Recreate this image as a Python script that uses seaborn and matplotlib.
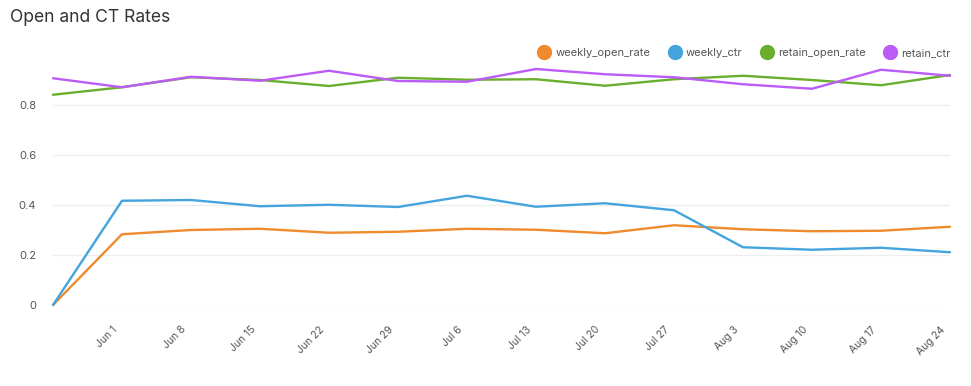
import matplotlib
matplotlib.use("Agg")
import matplotlib.pyplot as plt
import matplotlib.dates as mdates
from matplotlib.lines import Line2D
import seaborn as sns
import pandas as pd
import numpy as np

dates = pd.date_range("2025-05-26", periods=14, freq="7D")
weekly_open_rate = [0.0, 0.283, 0.300, 0.305, 0.289, 0.293, 0.305, 0.301, 0.287, 0.319, 0.303, 0.295, 0.297, 0.313]
weekly_ctr = [0.0, 0.417, 0.420, 0.395, 0.401, 0.392, 0.437, 0.393, 0.407, 0.379, 0.231, 0.221, 0.229, 0.211]
retain_open_rate = [0.841, 0.871, 0.911, 0.900, 0.876, 0.909, 0.901, 0.903, 0.877, 0.903, 0.917, 0.900, 0.879, 0.920]
retain_ctr = [0.907, 0.871, 0.913, 0.897, 0.937, 0.896, 0.893, 0.944, 0.923, 0.911, 0.883, 0.865, 0.941, 0.917]
series_names = ["weekly_open_rate", "weekly_ctr", "retain_open_rate", "retain_ctr"]
colors = ["#EF8B2C", "#44A4DE", "#6AAE2D", "#BA5CF5"]
tick_dates = pd.date_range("2025-06-01", "2025-08-24", freq="7D")
y_ticks = [0, 0.2, 0.4, 0.6, 0.8]
y_tick_labels = ["0", "0.2", "0.4", "0.6", "0.8"]

df = pd.DataFrame({"date": dates, "weekly_open_rate": weekly_open_rate, "weekly_ctr": weekly_ctr,
                   "retain_open_rate": retain_open_rate, "retain_ctr": retain_ctr})
long = df.melt(id_vars="date", var_name="series", value_name="value")

sns.set_theme(style="white")
plt.rcParams["font.family"] = ["Inter", "DejaVu Sans"]

fig = plt.figure(figsize=(9.71, 3.86), dpi=100)
ax = fig.add_axes([53/971, 1 - 305/386, (950 - 53)/971, 240/386])

sns.lineplot(data=long, x="date", y="value", hue="series", hue_order=series_names,
             palette=colors, linewidth=1.7, ax=ax, legend=False)
for ln in ax.lines:
    ln.set_clip_on(False)

ax.set_xlim(dates[0], dates[-1])
ax.set_ylim(0, 0.96)
ax.set_yticks(y_ticks)
ax.set_yticklabels(y_tick_labels)
ax.set_xticks(tick_dates)
ax.xaxis.set_major_formatter(mdates.DateFormatter("%b %-d"))
for lab in ax.get_xticklabels():
    lab.set_rotation(45)
    lab.set_ha("right")
    lab.set_rotation_mode("anchor")
ax.tick_params(axis="x", length=0, pad=14, labelsize=7.5, labelcolor="#555555")
ax.tick_params(axis="y", length=0, pad=12, labelsize=8, labelcolor="#555555")
ax.grid(axis="y", color="#EEEEEE", linewidth=0.9)
ax.set_axisbelow(True)
for s in ax.spines.values():
    s.set_visible(False)
ax.set_xlabel("")
ax.set_ylabel("")

fig.text(10/971, 1 - 18/386, "Open and CT Rates", fontsize=12.6, color="#333333", va="center", ha="left")

handles = [Line2D([], [], marker="o", linestyle="none", markersize=10, markerfacecolor=c,
                  markeredgecolor=c) for c in colors]
fig.legend(handles, series_names, loc="center right", bbox_to_anchor=(955/971, 1 - 53/386),
           ncol=4, frameon=False, fontsize=8, labelcolor="#555555", handletextpad=0.0,
           columnspacing=1.2, borderaxespad=0)

fig.savefig("out.png", dpi=100, facecolor="white")
